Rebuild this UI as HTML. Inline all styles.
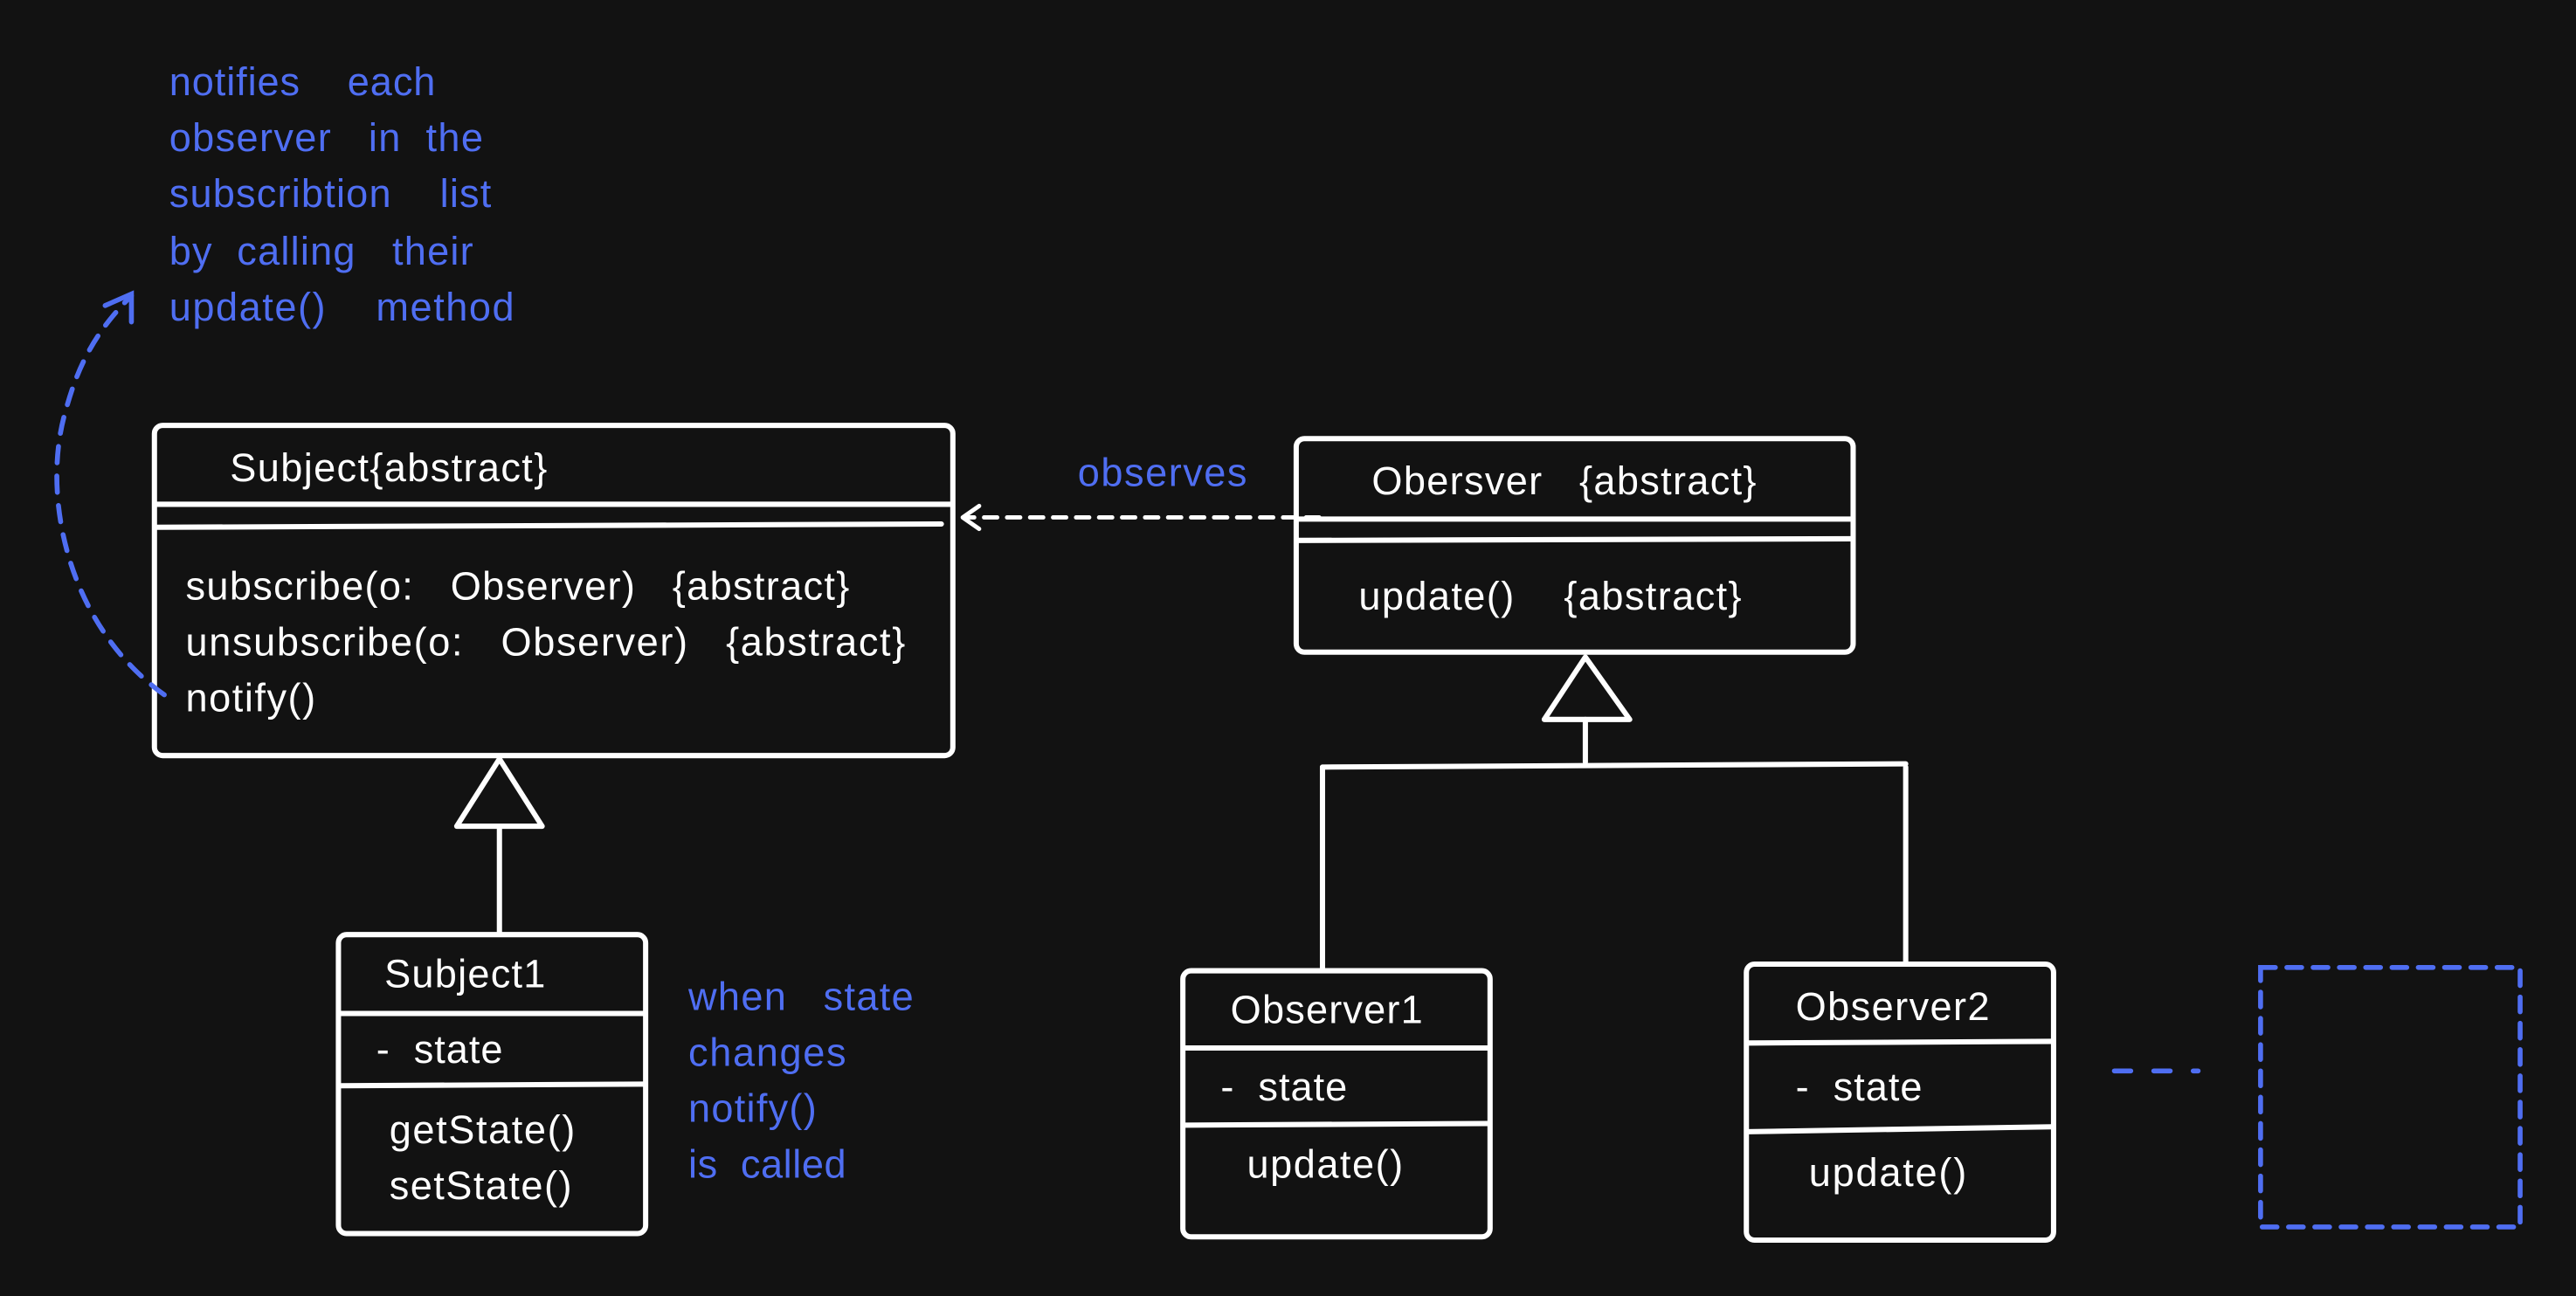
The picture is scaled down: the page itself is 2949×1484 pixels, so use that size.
<!DOCTYPE html>
<html><head><meta charset="utf-8"><style>
html,body{margin:0;padding:0;background:#121212;}
svg{display:block}
text{font-family:"Liberation Sans",sans-serif;font-size:24px;}
.w{fill:#fff}
.b{fill:#4f6ef2}
</style></head><body>
<svg width="2949" height="1484" viewBox="0 0 1568 789" xmlns="http://www.w3.org/2000/svg">
<rect width="1568" height="789" fill="#121212"/>
<g fill="none" stroke="#fff" stroke-width="3.2" stroke-linecap="round" stroke-linejoin="round">
<rect x="94" y="259" width="486" height="201" rx="5"/>
<line x1="95" y1="307" x2="579" y2="307"/>
<line x1="95" y1="321" x2="573" y2="319"/>
<rect x="789" y="267" width="339" height="130" rx="5"/>
<line x1="790" y1="316" x2="1128" y2="316"/>
<line x1="790" y1="329" x2="1127" y2="328"/>
<polygon points="965,400 992,438 940,438"/>
<line x1="965" y1="438" x2="965" y2="464"/>
<line x1="805" y1="467" x2="1160" y2="465"/>
<line x1="805" y1="467" x2="805" y2="590"/>
<line x1="1160" y1="467" x2="1160" y2="586"/>
<polygon points="304,462 330,503 278,503"/>
<line x1="304" y1="503" x2="304" y2="568"/>
<rect x="206" y="569" width="187" height="182" rx="5"/>
<line x1="207" y1="617" x2="392" y2="617"/>
<line x1="207" y1="661" x2="392" y2="660"/>
<rect x="720" y="591" width="187" height="162" rx="5"/>
<line x1="721" y1="638" x2="906" y2="638"/>
<line x1="721" y1="685" x2="906" y2="684"/>
<rect x="1063" y="587" width="187" height="168" rx="5"/>
<line x1="1064" y1="635" x2="1249" y2="634"/>
<line x1="1064" y1="689" x2="1249" y2="686"/>
<line x1="803" y1="315" x2="588" y2="315" stroke-width="2.6" stroke-dasharray="8,6"/>
<polyline points="596,308 586,315 596,322" stroke-width="2.6"/>
</g>
<g fill="none" stroke="#4f6ef2" stroke-width="3" stroke-linecap="round">
<line x1="1287" y1="652" x2="1338" y2="652" stroke-dasharray="10,14"/>
<rect x="1376" y="589" width="158" height="158" stroke-dasharray="9,7"/>
<path d="M100,423 C40,380 25,300 40,250 C48,220 60,200 80,180" stroke-dasharray="10,8"/>
<polyline points="64,186 80,179 80,196"/>
</g>
<text class="w" x="140" y="293" textLength="193">Subject{abstract}</text>
<text class="w" x="113" y="365" textLength="404">subscribe(o:&#160;&#160; Observer)&#160;&#160; {abstract}</text>
<text class="w" x="113" y="399" textLength="438">unsubscribe(o:&#160;&#160; Observer)&#160;&#160; {abstract}</text>
<text class="w" x="113" y="433" textLength="79">notify()</text>
<text class="w" x="835" y="301" textLength="234">Obersver&#160;&#160; {abstract}</text>
<text class="w" x="827" y="371" textLength="233">update()&#160;&#160;&#160; {abstract}</text>
<text class="w" x="234" y="601" textLength="98">Subject1</text>
<text class="w" x="229" y="647" textLength="77">-&#160; state</text>
<text class="w" x="237" y="696" textLength="113">getState()</text>
<text class="w" x="237" y="730" textLength="111">setState()</text>
<text class="w" x="749" y="623" textLength="117">Observer1</text>
<text class="w" x="743" y="670" textLength="77">-&#160; state</text>
<text class="w" x="759" y="717" textLength="95">update()</text>
<text class="w" x="1093" y="621" textLength="118">Observer2</text>
<text class="w" x="1093" y="670" textLength="77">-&#160; state</text>
<text class="w" x="1101" y="722" textLength="96">update()</text>
<text class="b" x="656" y="296" textLength="103">observes</text>
<text class="b" x="419" y="615" textLength="137">when&#160;&#160; state</text>
<text class="b" x="419" y="649" textLength="96">changes</text>
<text class="b" x="419" y="683" textLength="78">notify()</text>
<text class="b" x="419" y="717" textLength="96">is&#160; called</text>
<text class="b" x="103" y="58" textLength="162">notifies&#160;&#160;&#160; each</text>
<text class="b" x="103" y="92" textLength="191">observer&#160;&#160; in&#160; the</text>
<text class="b" x="103" y="126" textLength="196">subscribtion&#160;&#160;&#160; list</text>
<text class="b" x="103" y="161" textLength="185">by&#160; calling&#160;&#160; their</text>
<text class="b" x="103" y="195" textLength="210">update()&#160;&#160;&#160; method</text>
</svg>
</body></html>
